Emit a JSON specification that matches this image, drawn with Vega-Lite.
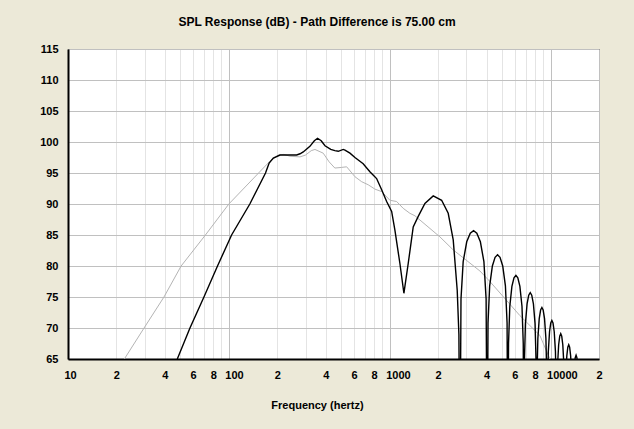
{
  "$schema": "https://vega.github.io/schema/vega-lite/v6.json",
  "width": 531,
  "height": 310,
  "autosize": {"type": "none"},
  "padding": {"left": 68, "top": 49, "right": 35, "bottom": 70},
  "background": "#ECE9D8",
  "title": {
    "text": "SPL Response (dB) - Path Difference is 75.00 cm",
    "anchor": "middle",
    "frame": "group",
    "dx": -16.5,
    "offset": 14,
    "font": "Liberation Sans",
    "fontSize": 12,
    "fontWeight": "bold",
    "color": "#000000"
  },
  "config": {
    "view": {"fill": "#ffffff", "stroke": "#000000", "strokeWidth": 1}
  },
  "datasets": {
    "single": [
      {"freq": 22.4, "spl": 65}, {"freq": 29.7, "spl": 70}, {"freq": 39.5, "spl": 75},
      {"freq": 50.5, "spl": 80}, {"freq": 71.5, "spl": 85}, {"freq": 100, "spl": 90},
      {"freq": 157, "spl": 95.3}, {"freq": 180, "spl": 96.9}, {"freq": 203, "spl": 97.9},
      {"freq": 220, "spl": 98.0}, {"freq": 240, "spl": 97.7}, {"freq": 277, "spl": 97.6},
      {"freq": 300, "spl": 97.9}, {"freq": 325, "spl": 98.6}, {"freq": 343, "spl": 98.8},
      {"freq": 386, "spl": 98.2}, {"freq": 420, "spl": 96.8}, {"freq": 456, "spl": 95.8},
      {"freq": 502, "spl": 95.9}, {"freq": 540, "spl": 96.0}, {"freq": 608, "spl": 94.4},
      {"freq": 669, "spl": 93.6}, {"freq": 735, "spl": 93.1}, {"freq": 809, "spl": 92.4},
      {"freq": 891, "spl": 92.0}, {"freq": 1003, "spl": 90.6}, {"freq": 1104, "spl": 90.4},
      {"freq": 1213, "spl": 89.3}, {"freq": 1335, "spl": 88.5}, {"freq": 1434, "spl": 88.1},
      {"freq": 2051, "spl": 84.7}, {"freq": 2481, "spl": 82.6}, {"freq": 3636, "spl": 79.2},
      {"freq": 4196, "spl": 77.5}, {"freq": 6446, "spl": 72.0}, {"freq": 8580, "spl": 68.8},
      {"freq": 9901, "spl": 65.0}, {"freq": 10500, "spl": 64}
    ],
    "combined": [
      {"freq": 47.8, "spl": 65}, {"freq": 57.3, "spl": 70}, {"freq": 70, "spl": 75},
      {"freq": 85, "spl": 80}, {"freq": 104, "spl": 85}, {"freq": 135, "spl": 90},
      {"freq": 169, "spl": 95}, {"freq": 178, "spl": 96.6}, {"freq": 189, "spl": 97.4},
      {"freq": 208, "spl": 97.9}, {"freq": 240, "spl": 97.9}, {"freq": 264, "spl": 97.9},
      {"freq": 277, "spl": 98.1}, {"freq": 290, "spl": 98.4}, {"freq": 319, "spl": 99.3},
      {"freq": 340, "spl": 100.2}, {"freq": 356, "spl": 100.6}, {"freq": 375, "spl": 100.2},
      {"freq": 396, "spl": 99.4}, {"freq": 430, "spl": 98.8}, {"freq": 456, "spl": 98.6},
      {"freq": 479, "spl": 98.5}, {"freq": 514, "spl": 98.8}, {"freq": 527, "spl": 98.7},
      {"freq": 566, "spl": 98.2}, {"freq": 608, "spl": 97.5}, {"freq": 684, "spl": 96.5},
      {"freq": 753, "spl": 95.2}, {"freq": 829, "spl": 94.1}, {"freq": 891, "spl": 92.3},
      {"freq": 957, "spl": 90.4}, {"freq": 1028, "spl": 88.8}, {"freq": 1077, "spl": 85.8},
      {"freq": 1157, "spl": 80.4}, {"freq": 1225, "spl": 75.6}, {"freq": 1303, "spl": 80.4},
      {"freq": 1400, "spl": 86.3}, {"freq": 1504, "spl": 88.0}, {"freq": 1655, "spl": 90.1},
      {"freq": 1864, "spl": 91.3}, {"freq": 2102, "spl": 90.6}, {"freq": 2310, "spl": 88.5},
      {"freq": 2482, "spl": 84.2}, {"freq": 2628, "spl": 76.1}, {"freq": 2692, "spl": 69},
      {"freq": 2731, "spl": 45},
      {"freq": 2774, "spl": 74.7}, {"freq": 2862, "spl": 80.7}, {"freq": 3011, "spl": 83.9},
      {"freq": 3168, "spl": 85.3}, {"freq": 3321, "spl": 85.7}, {"freq": 3479, "spl": 85.3},
      {"freq": 3661, "spl": 83.9}, {"freq": 3851, "spl": 80.7}, {"freq": 3974, "spl": 74.7},
      {"freq": 4036, "spl": 45},
      {"freq": 4084, "spl": 70.8}, {"freq": 4182, "spl": 76.8}, {"freq": 4347, "spl": 80.0},
      {"freq": 4518, "spl": 81.4}, {"freq": 4681, "spl": 81.8}, {"freq": 4850, "spl": 81.4},
      {"freq": 5041, "spl": 80.0}, {"freq": 5239, "spl": 76.8}, {"freq": 5365, "spl": 70.8},
      {"freq": 5428, "spl": 45},
      {"freq": 5478, "spl": 67.5}, {"freq": 5579, "spl": 73.5}, {"freq": 5749, "spl": 76.7},
      {"freq": 5923, "spl": 78.1}, {"freq": 6088, "spl": 78.5}, {"freq": 6257, "spl": 78.1},
      {"freq": 6446, "spl": 76.7}, {"freq": 6641, "spl": 73.5}, {"freq": 6763, "spl": 67.5},
      {"freq": 6826, "spl": 45},
      {"freq": 6876, "spl": 64.7}, {"freq": 6977, "spl": 70.7}, {"freq": 7143, "spl": 73.9},
      {"freq": 7314, "spl": 75.3}, {"freq": 7475, "spl": 75.7}, {"freq": 7638, "spl": 75.3},
      {"freq": 7822, "spl": 73.9}, {"freq": 8008, "spl": 70.7}, {"freq": 8125, "spl": 64.7},
      {"freq": 8185, "spl": 45},
      {"freq": 8234, "spl": 62.3}, {"freq": 8335, "spl": 68.3}, {"freq": 8501, "spl": 71.5},
      {"freq": 8670, "spl": 72.9}, {"freq": 8831, "spl": 73.3}, {"freq": 8993, "spl": 72.9},
      {"freq": 9171, "spl": 71.5}, {"freq": 9354, "spl": 68.3}, {"freq": 9469, "spl": 62.3},
      {"freq": 9526, "spl": 45},
      {"freq": 9576, "spl": 60.2}, {"freq": 9681, "spl": 66.2}, {"freq": 9851, "spl": 69.4},
      {"freq": 10025, "spl": 70.8}, {"freq": 10188, "spl": 71.2}, {"freq": 10354, "spl": 70.8},
      {"freq": 10537, "spl": 69.4}, {"freq": 10722, "spl": 66.2}, {"freq": 10839, "spl": 60.2},
      {"freq": 10897, "spl": 45},
      {"freq": 10950, "spl": 58.1}, {"freq": 11054, "spl": 64.1}, {"freq": 11226, "spl": 67.3},
      {"freq": 11401, "spl": 68.7}, {"freq": 11565, "spl": 69.1}, {"freq": 11731, "spl": 68.7},
      {"freq": 11912, "spl": 67.3}, {"freq": 12098, "spl": 64.1}, {"freq": 12212, "spl": 58.1},
      {"freq": 12271, "spl": 45},
      {"freq": 12325, "spl": 56.3}, {"freq": 12434, "spl": 62.3}, {"freq": 12616, "spl": 65.5},
      {"freq": 12797, "spl": 66.9}, {"freq": 12966, "spl": 67.3}, {"freq": 13137, "spl": 66.9},
      {"freq": 13329, "spl": 65.5}, {"freq": 13521, "spl": 62.3}, {"freq": 13640, "spl": 56.3},
      {"freq": 13700, "spl": 45},
      {"freq": 13754, "spl": 54.6}, {"freq": 13865, "spl": 60.6}, {"freq": 14048, "spl": 63.8},
      {"freq": 14230, "spl": 65.2}, {"freq": 14405, "spl": 65.6}, {"freq": 14578, "spl": 65.2},
      {"freq": 14768, "spl": 63.8}, {"freq": 14963, "spl": 60.6}, {"freq": 15084, "spl": 54.6},
      {"freq": 15145, "spl": 45}
    ]
  },
  "encoding": {
    "x": {
      "field": "freq",
      "type": "quantitative",
      "scale": {"type": "log", "domain": [10, 20000], "nice": false},
      "axis": {
        "values": [10, 20, 30, 40, 50, 60, 70, 80, 90, 100, 200, 300, 400, 500, 600, 700, 800, 900, 1000, 2000, 3000, 4000, 5000, 6000, 7000, 8000, 9000, 10000, 20000],
        "format": "d",
        "labelExpr": "indexof([10, 100, 1000, 10000], datum.value) >= 0 ? datum.label : (indexof(['2', '4', '6', '8'], slice(datum.label, 0, 1)) >= 0 ? slice(datum.label, 0, 1) : '')",
        "grid": true,
        "gridColor": {"condition": {"test": "indexof([10, 100, 1000, 10000, 20000], datum.value) >= 0", "value": "#c0c0c0"}, "value": "#e4e4e4"},
        "gridWidth": 1,
        "ticks": false,
        "domain": true,
        "domainColor": "#000000",
        "domainWidth": 2,
        "labelAlign": {"condition": {"test": "indexof([10, 100, 1000, 10000], datum.value) >= 0", "value": "left"}, "value": "center"},
        "labelOffset": {"condition": {"test": "indexof([10, 100, 1000, 10000], datum.value) >= 0", "value": -4}, "value": 0},
        "labelFont": "Liberation Sans",
        "labelFontSize": 11,
        "labelFontWeight": "bold",
        "labelColor": "#000000",
        "labelPadding": 10,
        "labelOverlap": false,
        "labelFlush": false,
        "title": "Frequency (hertz)",
        "titleFont": "Liberation Sans",
        "titleFontSize": 11,
        "titleFontWeight": "bold",
        "titleColor": "#000000",
        "titlePadding": 19,
        "titleX": 249,
        "titleAlign": "center"
      }
    },
    "y": {
      "field": "spl",
      "type": "quantitative",
      "scale": {"domain": [65, 115], "nice": false, "zero": false},
      "axis": {
        "values": [65, 70, 75, 80, 85, 90, 95, 100, 105, 110, 115],
        "grid": true,
        "gridColor": "#c0c0c0",
        "gridWidth": 1,
        "ticks": false,
        "domain": true,
        "domainColor": "#000000",
        "domainWidth": 2,
        "labelFont": "Liberation Sans",
        "labelFontSize": 11,
        "labelFontWeight": "bold",
        "labelColor": "#000000",
        "labelPadding": 10,
        "labelOverlap": false,
        "labelFlush": false,
        "title": null
      }
    }
  },
  "layer": [
    {
      "data": {"name": "single"},
      "mark": {"type": "line", "clip": true, "color": "#b4b4b4", "strokeWidth": 1}
    },
    {
      "data": {"name": "combined"},
      "mark": {"type": "line", "clip": true, "color": "#000000", "strokeWidth": 1.4}
    }
  ]
}
